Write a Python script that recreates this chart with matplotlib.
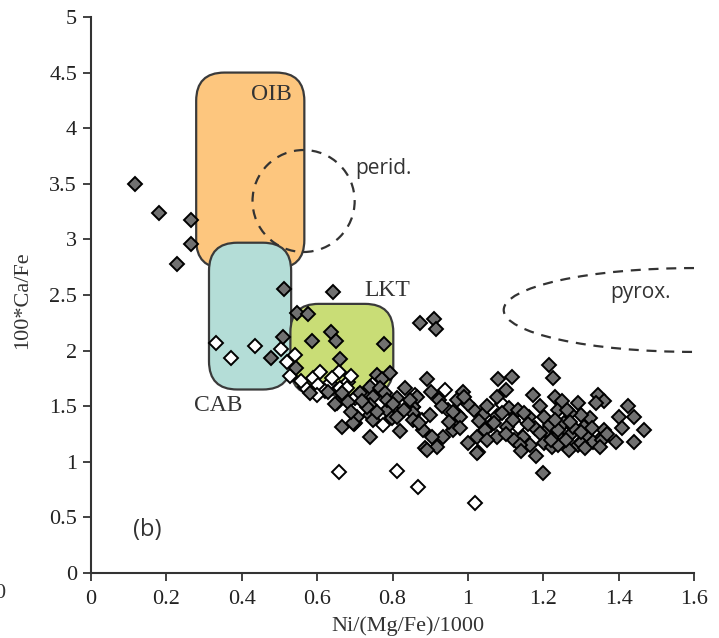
import matplotlib
matplotlib.use("Agg")
import matplotlib.pyplot as plt
import numpy as np
from matplotlib.patches import FancyBboxPatch, Ellipse, Arc

# Donnees
# -------------------------
# points gris (losanges pleins)
gris_x = [0.117, 0.181, 0.266, 0.266, 0.228, 0.511, 0.643, 0.546, 0.575,
          0.509, 0.477, 0.544, 0.587, 0.637, 0.650, 0.661, 0.778,
          0.874, 0.909, 0.916,
          0.667, 0.653, 0.683, 0.667, 0.699, 0.582, 0.714, 0.741, 0.760, 0.773,
          0.794, 0.768, 0.749, 0.781, 0.813, 0.834, 0.853, 0.741, 0.786, 0.799,
          0.741, 0.701, 0.629, 0.648,
          0.892, 1.081, 1.118, 1.078, 1.100, 1.174, 0.903, 0.988, 0.866, 0.922,
          0.972, 0.855, 0.900, 0.980, 1.015, 1.039, 1.060, 1.078, 1.108, 1.134,
          1.161, 1.105, 1.078, 1.046, 1.025, 0.999, 1.028, 0.961, 0.935, 0.906,
          0.887, 0.919, 1.201, 1.179, 1.211, 1.238, 1.147, 1.121, 1.166, 1.201,
          1.224, 1.139, 1.198, 1.232, 1.238, 1.219, 0.855, 0.853, 0.813, 0.786,
          0.733, 0.707, 0.749, 0.741, 0.696, 0.882, 0.892, 1.025, 0.847, 0.820,
          1.216, 1.225, 1.293, 1.344, 1.360, 1.339, 1.424, 1.400, 1.466, 1.440,
          1.392, 1.360, 1.347, 1.325, 1.307, 1.299, 1.272, 1.254, 1.240, 1.272,
          1.291, 1.267, 1.238, 1.317, 1.333, 1.264, 1.280, 1.299, 1.357,
          0.930, 0.960, 1.000, 1.050, 1.090, 1.120, 1.160, 1.190, 1.230, 1.270,
          1.300, 1.330, 1.370, 1.100, 1.050, 0.980, 0.950, 0.870, 0.830, 0.800,
          0.760, 0.720, 0.690, 1.140, 1.180, 1.220, 1.260, 1.310, 1.350, 1.410,
          1.440, 0.990, 1.030, 1.070, 1.150, 1.190, 1.250]
gris_y = [3.50, 3.24, 3.17, 2.96, 2.78, 2.55, 2.53, 2.34, 2.33,
          2.12, 1.93, 1.84, 2.09, 2.17, 2.09, 1.92, 2.06,
          2.25, 2.28, 2.19,
          1.62, 1.53, 1.54, 1.31, 1.34, 1.62, 1.62, 1.67, 1.78, 1.74,
          1.80, 1.66, 1.58, 1.62, 1.57, 1.66, 1.49, 1.51, 1.47, 1.39,
          1.42, 1.35, 1.63, 1.52,
          1.74, 1.74, 1.76, 1.58, 1.65, 1.60, 1.63, 1.63, 1.58, 1.56,
          1.56, 1.49, 1.42, 1.40, 1.47, 1.42, 1.33, 1.41, 1.48, 1.47,
          1.40, 1.31, 1.22, 1.29, 1.22, 1.17, 1.09, 1.29, 1.22, 1.22,
          1.12, 1.13, 1.40, 1.30, 1.29, 1.24, 1.22, 1.20, 1.15, 1.17,
          1.13, 1.15, 0.90, 1.58, 1.47, 1.33, 1.44, 1.38, 1.40, 1.56,
          1.49, 1.40, 1.38, 1.22, 1.35, 1.29, 1.11, 1.08, 1.56, 1.28,
          1.87, 1.75, 1.53, 1.60, 1.55, 1.53, 1.50, 1.40, 1.29, 1.18,
          1.18, 1.29, 1.20, 1.39, 1.31, 1.42, 1.44, 1.35, 1.29, 1.24,
          1.15, 1.11, 1.15, 1.22, 1.18, 1.47, 1.31, 1.17, 1.20,
          1.50, 1.45, 1.52, 1.50, 1.44, 1.38, 1.34, 1.26, 1.38, 1.36,
          1.27, 1.30, 1.25, 1.25, 1.20, 1.30, 1.36, 1.35, 1.47, 1.52,
          1.45, 1.55, 1.45, 1.10, 1.05, 1.20, 1.20, 1.12, 1.13, 1.30,
          1.40, 1.58, 1.37, 1.35, 1.44, 1.50, 1.55]

# points blancs (losanges vides)
blanc_x = [0.331, 0.371, 0.436, 0.505, 0.521, 0.541, 0.529, 0.659, 0.568, 0.590,
           0.608, 0.603, 0.635, 0.661, 0.683, 0.680, 0.709, 0.826, 0.776, 0.799,
           0.879, 0.940, 0.946, 1.134, 0.657, 0.812, 0.868, 1.020, 0.556, 0.620,
           0.700, 0.730, 0.750, 0.690, 0.640, 0.600, 0.860, 1.090, 0.970]
blanc_y = [2.07, 1.93, 2.04, 2.01, 1.90, 1.96, 1.77, 1.81, 1.67, 1.75,
           1.81, 1.69, 1.71, 1.66, 1.72, 1.66, 1.60, 1.51, 1.33, 1.40,
           1.38, 1.65, 1.47, 1.31, 0.91, 0.92, 0.77, 0.63, 1.73, 1.64,
           1.57, 1.62, 1.71, 1.77, 1.75, 1.60, 1.60, 1.52, 1.43]

# champs (x0, y0, largeur, hauteur)
champs = {"OIB": (0.279, 2.74, 0.287, 1.76),
          "CAB": (0.313, 1.65, 0.218, 1.32),
          "LKT": (0.529, 1.60, 0.273, 0.82)}
couleurs = {"OIB": "#fdc67e", "CAB": "#b4ddd7", "LKT": "#c9dd76"}

# Figure
# ------
fig = plt.figure(figsize=(7.19, 6.38), dpi=100)
ax = fig.add_axes([0.1266, 0.1019, 0.8387, 0.8715])
ax.set_xlim(0, 1.6)
ax.set_ylim(0, 5)

aspect = (556 / 5) / (603 / 1.6)   # px par unite y / px par unite x
asp = 1 / aspect
for nom in ["OIB", "CAB", "LKT"]:
    x0, y0, w, h = champs[nom]
    p = FancyBboxPatch((x0, y0), w, h,
                       boxstyle="round,pad=0,rounding_size=0.075",
                       mutation_aspect=asp,
                       facecolor=couleurs[nom], edgecolor="#3a3a3a",
                       linewidth=1.6, zorder=1)
    ax.add_patch(p)

# peridotite et pyroxene (tirets)
ax.add_patch(Ellipse((0.564, 3.345), 0.271, 0.917, fill=False,
                     ls=(0, (4.5, 3.5)), lw=1.6, ec="#333333", zorder=2))
ax.add_patch(Arc((1.6, 2.365), 1.01, 0.754, theta1=90, theta2=270,
                 ls=(0, (4.5, 3.5)), lw=1.6, ec="#333333", zorder=2))

ax.plot(blanc_x, blanc_y, "D", ms=7.2, mfc="white", mec="black", mew=1.4,
        ls="none", zorder=3)
ax.plot(gris_x, gris_y, "D", ms=7.2, mfc="#707070", mec="black", mew=1.4,
        ls="none", zorder=4)

serif = "Liberation Serif"
sans = "Open Sans"
ax.text(0.478, 4.30, "OIB", family=serif, fontsize=17, color="#333333",
        ha="center", va="center")
ax.text(0.338, 1.51, "CAB", family=serif, fontsize=17, color="#333333",
        ha="center", va="center")
ax.text(0.786, 2.54, "LKT", family=serif, fontsize=17, color="#333333",
        ha="center", va="center")
ax.text(0.776, 3.64, "perid.", family=sans, fontsize=15, color="#333333",
        ha="center", va="center")
ax.text(1.458, 2.52, "pyrox.", family=sans, fontsize=15, color="#333333",
        ha="center", va="center")
ax.text(0.148, 0.39, "(b)", family=sans, fontsize=17, color="#333333",
        ha="center", va="center")

for s in ["top", "right"]:
    ax.spines[s].set_visible(False)
for s in ["left", "bottom"]:
    ax.spines[s].set_color("#333333")
    ax.spines[s].set_linewidth(1.5)

ax.set_xticks([0, 0.2, 0.4, 0.6, 0.8, 1.0, 1.2, 1.4, 1.6])
ax.set_xticklabels(["0", "0.2", "0.4", "0.6", "0.8", "1", "1.2", "1.4", "1.6"])
ax.set_yticks([0, 0.5, 1, 1.5, 2, 2.5, 3, 3.5, 4, 4.5, 5])
ax.set_yticklabels(["0", "0.5", "1", "1.5", "2", "2.5", "3", "3.5", "4", "4.5", "5"])
ax.tick_params(direction="out", length=6, width=1.3, color="#333333",
               labelsize=16, labelcolor="#222222")
ax.tick_params(axis="y", pad=4)
ax.tick_params(axis="x", pad=6)
for lab in ax.get_xticklabels() + ax.get_yticklabels():
    lab.set_family(serif)

ax.set_xlabel("Ni/(Mg/Fe)/1000", family=serif, fontsize=16, color="#333333")
ax.xaxis.set_label_coords(0.526, -0.095)
ax.xaxis.label.set_va("center")
ax.set_ylabel("100*Ca/Fe", family=serif, fontsize=16, color="#333333")
ax.yaxis.set_label_coords(-0.113, 0.491)
ax.yaxis.label.set_va("center")

# bout de texte coupe du panneau voisin
fig.text(-6 / 719, 1 - 593 / 638, "0", family=serif, fontsize=16,
         color="#333333", va="center", ha="left")

fig.savefig("out.png", dpi=100)
